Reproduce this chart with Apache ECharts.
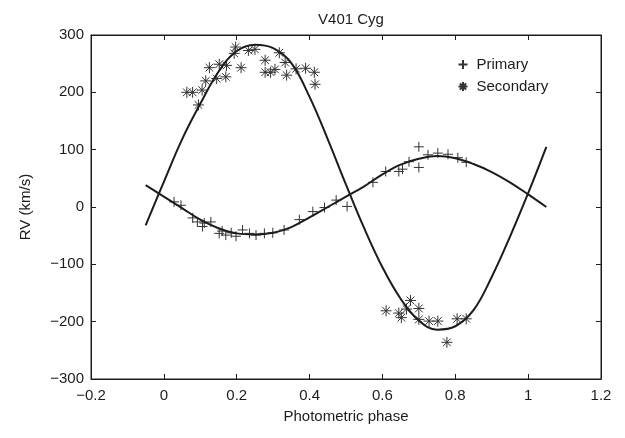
<!DOCTYPE html>
<html>
<head>
<meta charset="utf-8">
<script src="https://cdn.jsdelivr.net/npm/echarts@6/dist/echarts.min.js"></script>
<style>
  html, body { margin: 0; padding: 0; background: #fff; }
  #chart { width: 625px; height: 438px; }
</style>
</head>
<body>
<div id="chart"></div>
<script>
// observed points (phase, RV)
var primaryPts = [
    [0.028, 9], [0.047, 3], [0.079, -19], [0.092, -26], [0.106, -34], [0.111, -28],
    [0.129, -26], [0.152, -46], [0.160, -42], [0.170, -49], [0.185, -45], [0.198, -51],
    [0.216, -40], [0.235, -46], [0.253, -49], [0.276, -46], [0.299, -45], [0.330, -40],
    [0.372, -22], [0.409, -8], [0.441, -1], [0.473, 12], [0.503, 1], [0.574, 43],
    [0.609, 62], [0.645, 62], [0.655, 66], [0.673, 79], [0.700, 105], [0.700, 69],
    [0.725, 91], [0.752, 94], [0.780, 92], [0.807, 86], [0.830, 78]
];
var secondaryPts = [
    [0.063, 200], [0.079, 200], [0.095, 178], [0.105, 204], [0.115, 220], [0.125, 243],
    [0.145, 224], [0.152, 249], [0.172, 247], [0.170, 227], [0.193, 268], [0.197, 279],
    [0.212, 243], [0.232, 273], [0.250, 275], [0.278, 256], [0.278, 235], [0.293, 235],
    [0.305, 240], [0.317, 269], [0.333, 252], [0.337, 230], [0.363, 241], [0.389, 242],
    [0.413, 235], [0.415, 214],
    [0.610, -181], [0.645, -185], [0.652, -193], [0.666, -178], [0.677, -163],
    [0.700, -177], [0.700, -196], [0.728, -199], [0.752, -199], [0.777, -236],
    [0.805, -195], [0.830, -195]
];

// fitted curves
var curvePhase = [-0.05, 0, 0.05, 0.1, 0.15, 0.2, 0.25, 0.3, 0.35, 0.4, 0.45, 0.5,
    0.55, 0.6, 0.65, 0.7, 0.75, 0.8, 0.85, 0.9, 0.95, 1.0, 1.05];
var primaryFit = [38, 18, -2, -22, -37, -46, -48, -45, -35, -18, 0, 18,
    36, 57, 74, 84, 89, 85, 75, 61, 43, 22, 0];
var secondaryFit = [-32, 44, 118, 180, 236, 272, 283, 277, 251, 192, 118, 39,
    -37, -105, -160, -198, -214, -208, -180, -122, -52, 24, 105];

var xTicks = [-0.2, 1.2, 0.2];
var yTicks = [-300, 300, 100];

function zip(xs, ys) {
    var out = [];
    for (var i = 0; i < xs.length; i++) {
        out.push([xs[i], ys[i]]);
    }
    return out;
}

function fmt(v) {
    var s = String(Math.round(v * 10) / 10);
    return s.replace('-', '\u2212');
}

var plusPath = 'path://M0,5L10,5M5,0L5,10';
var starPath = 'path://M0,5L10,5M5,0L5,10M1.5,1.5L8.5,8.5M8.5,1.5L1.5,8.5';
var ink = '#1c1c1c';
var font = 'Liberation Sans, Arial, sans-serif';

var chart = echarts.init(document.getElementById('chart'), null, { renderer: 'canvas' });

var option = {
    backgroundColor: '#fff',
    animation: false,
    title: {
        text: 'V401 Cyg',
        left: 346,
        textAlign: 'center',
        top: 7,
        textStyle: { fontFamily: font, fontSize: 15, fontWeight: 'normal', color: ink }
    },
    grid: {
        left: 91,
        right: 24,
        top: 35,
        bottom: 59,
        show: true,
        borderColor: ink,
        borderWidth: 1
    },
    legend: {
        orient: 'vertical',
        left: 451,
        top: 52,
        itemGap: 7,
        itemWidth: 9,
        itemHeight: 9,
        textStyle: { fontFamily: font, fontSize: 15, color: ink, padding: [0, 0, 0, 4] },
        data: ['Primary', 'Secondary']
    },
    xAxis: [{
        type: 'value',
        min: xTicks[0],
        max: xTicks[1],
        interval: xTicks[2],
        name: 'Photometric phase',
        nameLocation: 'middle',
        nameGap: 30,
        nameTextStyle: { fontFamily: font, fontSize: 15, color: ink },
        axisLine: { show: true, onZero: false, lineStyle: { color: ink } },
        axisTick: { show: true, inside: true, length: 5, lineStyle: { color: ink } },
        axisLabel: { fontFamily: font, fontSize: 15, color: ink, margin: 9, formatter: fmt },
        splitLine: { show: false }
    }, {
        type: 'value',
        position: 'top',
        min: xTicks[0],
        max: xTicks[1],
        interval: xTicks[2],
        axisLine: { show: true, onZero: false, lineStyle: { color: ink } },
        axisTick: { show: true, inside: true, length: 5, lineStyle: { color: ink } },
        axisLabel: { show: false },
        splitLine: { show: false }
    }],
    yAxis: [{
        type: 'value',
        min: yTicks[0],
        max: yTicks[1],
        interval: yTicks[2],
        name: 'RV (km/s)',
        nameLocation: 'middle',
        nameGap: 58,
        nameTextStyle: { fontFamily: font, fontSize: 15, color: ink },
        axisLine: { show: true, onZero: false, lineStyle: { color: ink } },
        axisTick: { show: true, inside: true, length: 5, lineStyle: { color: ink } },
        axisLabel: { fontFamily: font, fontSize: 15, color: ink, margin: 7, formatter: fmt },
        splitLine: { show: false }
    }, {
        type: 'value',
        position: 'right',
        min: yTicks[0],
        max: yTicks[1],
        interval: yTicks[2],
        axisLine: { show: true, onZero: false, lineStyle: { color: ink } },
        axisTick: { show: true, inside: true, length: 5, lineStyle: { color: ink } },
        axisLabel: { show: false },
        splitLine: { show: false }
    }],
    series: [{
        name: 'Primary',
        type: 'scatter',
        symbol: plusPath,
        symbolSize: 10,
        itemStyle: { color: 'none', borderColor: '#333', borderWidth: 1, opacity: 1 },
        data: primaryPts,
        z: 3
    }, {
        name: 'Secondary',
        type: 'scatter',
        symbol: starPath,
        symbolSize: 11,
        itemStyle: { color: 'none', borderColor: '#333', borderWidth: 1, opacity: 1 },
        data: secondaryPts,
        z: 3
    }, {
        name: 'primaryFit',
        type: 'line',
        smooth: 0.4,
        showSymbol: false,
        lineStyle: { color: ink, width: 2 },
        data: zip(curvePhase, primaryFit),
        z: 4
    }, {
        name: 'secondaryFit',
        type: 'line',
        smooth: 0.4,
        showSymbol: false,
        lineStyle: { color: ink, width: 2 },
        data: zip(curvePhase, secondaryFit),
        z: 4
    }]
};
chart.setOption(option);
</script>
</body>
</html>
